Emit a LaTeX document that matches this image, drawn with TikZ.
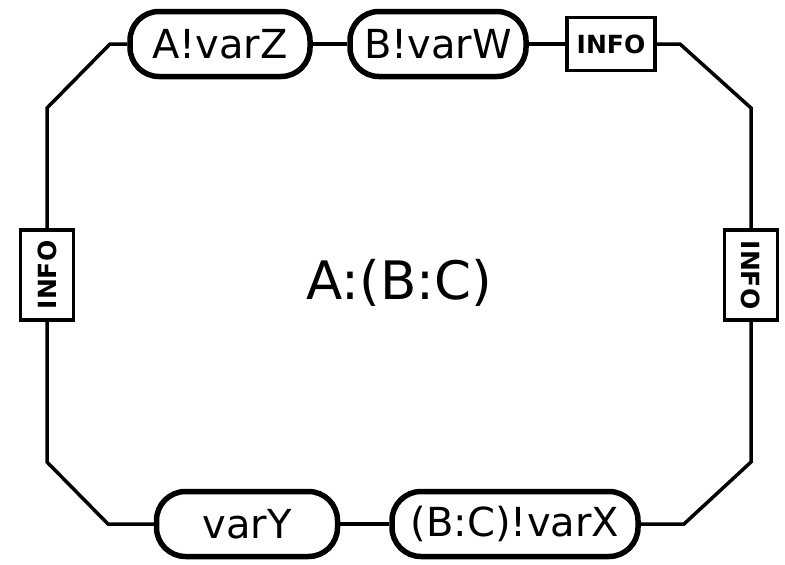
\documentclass[tikz,border=0pt]{standalone}
\usepackage{fontspec}
\setmainfont{DejaVu Sans}
\usetikzlibrary{positioning, calc}

\tikzset{
	varbox/.style={draw, line width=5.5pt, rounded corners=29pt, minimum height=65pt, inner sep=2pt, font=\fontsize{40}{44}\selectfont},
	infobox/.style={draw, line width=3.3pt, fill=white, inner sep=0pt, font=\bfseries\fontsize{25}{26}\selectfont},
	wire/.style={line width=3.5pt}
}

\begin{document}
\begin{tikzpicture}[x=1pt, y=-1pt]
	\useasboundingbox (0, 0) rectangle (785, 565);
	\node[varbox, minimum width=180pt] (varZ) at (220, 44) {A!varZ};
	\node[varbox, minimum width=176pt] (varW) at (438, 44) {B!varW};
	\node[infobox, minimum width=88pt, minimum height=53pt] (infoT) at (611, 44) {INFO};
	\node[infobox, minimum width=53pt, minimum height=90pt] (infoL) at (47, 275) {\rotatebox{90}{INFO}};
	\node[infobox, minimum width=53pt, minimum height=90pt] (infoR) at (751, 275) {\rotatebox{-90}{INFO}};
	\node[varbox, minimum width=181pt] (varY) at (247, 524) {varY};
	\node[varbox, minimum width=246pt] (varX) at (515, 524) {(B:C)!varX};
	\node[font=\fontsize{53}{56}\selectfont] (label) at (399, 283) {A:(B:C)};
	% corners of the frame
	\coordinate (tl1) at (47, 108);
	\coordinate (tl2) at (110, 44);
	\coordinate (tr1) at (680, 44);
	\coordinate (tr2) at (751, 108);
	\coordinate (br1) at (751, 462);
	\coordinate (br2) at (684, 524);
	\coordinate (bl1) at (47, 462);
	\coordinate (bl2) at (108, 524);
	\draw[wire] (infoL.north) -- (tl1) -- (tl2) -- (varZ.west);
	\draw[wire] (varZ.east) -- (varW.west);
	\draw[wire] (varW.east) -- (infoT.west);
	\draw[wire] (infoT.east) -- (tr1) -- (tr2) -- (infoR.north);
	\draw[wire] (infoR.south) -- (br1) -- (br2) -- (varX.east);
	\draw[wire] (varX.west) -- (varY.east);
	\draw[wire] (varY.west) -- (bl2) -- (bl1) -- (infoL.south);
\end{tikzpicture}
\end{document}
